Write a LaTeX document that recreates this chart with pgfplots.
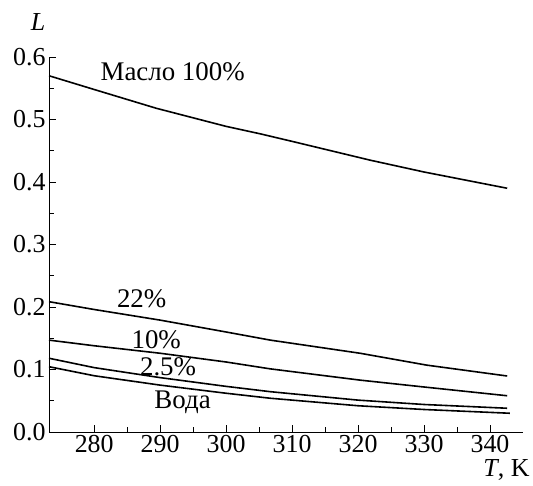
\documentclass[border=0pt]{standalone}
\usepackage{fontspec}
\setmainfont{Liberation Serif}
\usepackage{pgfplots}
\pgfplotsset{compat=1.18}

\begin{document}
\begin{tikzpicture}
\begin{axis}[scale only axis,width=474bp,height=375bp,
  xmin=273.15,xmax=345,ymin=0,ymax=0.6,
  axis x line*=bottom,axis y line*=left,axis line style={-,line width=0.9bp},
  tick align=inside,xtick pos=bottom,ytick pos=left,
  xtick={280,290,...,340},ytick={0,0.1,...,0.6},
  minor x tick num=1,minor y tick num=1,
  major tick length=7bp,minor tick length=5bp,
  tick style={line width=0.9bp,black},
  /pgf/number format/assume math mode=true,
  yticklabel style={/pgf/number format/.cd,fixed,fixed zerofill,precision=1},
  xticklabel style={/pgf/number format/1000 sep={}},
  tick label style={font=\fontsize{26}{28}\selectfont},
  clip=false]
  \addplot[black,line width=1.6bp] coordinates {(273.15,0.570) (280,0.548) (289.4,0.518) (300,0.489) (305.2,0.477) (310,0.465) (321.8,0.435) (330,0.416) (342.6,0.390)};
  \addplot[black,line width=1.6bp] coordinates {(273.15,0.2085) (280,0.196) (290,0.179) (300,0.160) (306.7,0.147) (320.3,0.126) (330.4,0.107) (342.6,0.0896)};
  \addplot[black,line width=1.6bp] coordinates {(273.15,0.147) (280,0.138) (290,0.126) (300,0.112) (306.7,0.101) (320.3,0.083) (330,0.072) (342.6,0.058)};
  \addplot[black,line width=1.6bp] coordinates {(273.15,0.118) (280,0.103) (290,0.087) (300,0.073) (306.7,0.0645) (320,0.051) (330,0.044) (342.6,0.038)};
  \addplot[black,line width=1.6bp] coordinates {(273.15,0.1045) (280,0.090) (290,0.075) (300,0.062) (306.7,0.054) (320,0.042) (330,0.036) (343,0.030)};
  \node[font=\fontsize{27}{29}\selectfont] at (axis cs:291.9,0.576) {Масло 100\%};
  \node[font=\fontsize{27}{29}\selectfont] at (axis cs:287.2,0.213) {22\%};
  \node[font=\fontsize{27}{29}\selectfont] at (axis cs:289.4,0.147) {10\%};
  \node[font=\fontsize{27}{29}\selectfont] at (axis cs:291.2,0.104) {2.5\%};
  \node[font=\fontsize{27}{29}\selectfont] at (axis cs:293.4,0.048) {Вода};
\end{axis}
\node[font=\fontsize{26}{28}\selectfont\itshape] at ([shift={(-11bp,35bp)}]current axis.north west) {L};
\node[font=\fontsize{26}{28}\selectfont,anchor=east] at ([shift={(10bp,-38bp)}]current axis.south east) {\textit{T}, K};
\pgfresetboundingbox
\path ([shift={(-49bp,-54bp)}]current axis.south west) rectangle ([shift={(-49bp,-54bp)}]current axis.south west) ++(533bp,486bp);
\end{tikzpicture}
\end{document}
